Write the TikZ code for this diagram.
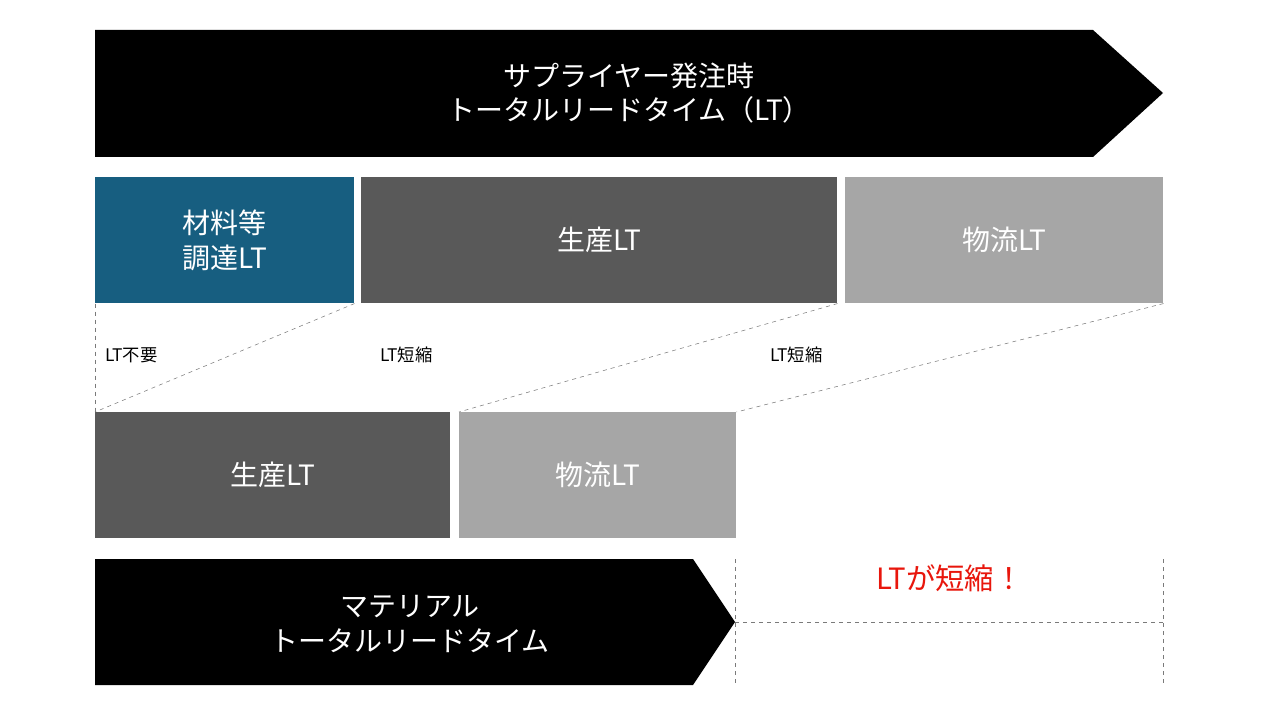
\documentclass[tikz,border=0pt]{standalone}
\usepackage{fontspec}
\setmainfont{Noto Sans CJK JP}
\usetikzlibrary{positioning}
\definecolor{blu}{HTML}{175E80}
\definecolor{dgray}{HTML}{595959}
\definecolor{lgray}{HTML}{A6A6A6}
\definecolor{lred}{HTML}{E8160C}
\begin{document}
\begin{tikzpicture}[x=0.75pt,y=-0.75pt,
    blk/.style={anchor=north west,inner sep=0pt,text=white,font=\fontsize{21}{26}\selectfont,align=center},
    note/.style={anchor=west,inner sep=0pt,font=\fontsize{13}{16}\selectfont},
    cut/.style={draw=dgray!80,dashed,thin}]
    \useasboundingbox (0,0) rectangle (1280,720);
    % top arrow
    \fill (95,30) -- (1093,30) -- (1163,93) -- (1093,157) -- (95,157) -- cycle;
    \node[blk,anchor=center] (total) at (629,93) {サプライヤー発注時\\トータルリードタイム（LT）};
    % current lead times
    \node[blk,fill=blu,minimum width=259*0.75pt,minimum height=126*0.75pt] (mat) at (95,177) {材料等\\調達LT};
    \node[blk,fill=dgray,minimum width=476*0.75pt,minimum height=126*0.75pt] (prodA) at (361,177) {生産LT};
    \node[blk,fill=lgray,minimum width=318*0.75pt,minimum height=126*0.75pt] (logA) at (845,177) {物流LT};
    % shortened lead times
    \node[blk,fill=dgray,minimum width=355*0.75pt,minimum height=126*0.75pt] (prodB) at (95,412) {生産LT};
    \node[blk,fill=lgray,minimum width=277*0.75pt,minimum height=126*0.75pt] (logB) at (459,412) {物流LT};
    \draw[cut] (mat.south west) -- (prodB.north west);
    \draw[cut] (mat.south east) -- (prodB.north west);
    \draw[cut] (prodA.south east) -- (logB.north west);
    \draw[cut] (logA.south east) -- (logB.north east);
    \node[note] (lt1) at (105,355) {LT不要};
    \node[note] (lt2) at (380,355) {LT短縮};
    \node[note] (lt3) at (770,355) {LT短縮};
    % bottom arrow
    \fill (95,559) -- (693,559) -- (735,622) -- (693,685) -- (95,685) -- cycle;
    \node[blk,anchor=center] (mtotal) at (410,624) {マテリアル\\トータルリードタイム};
    \coordinate (gapL) at (735,559);
    \coordinate (gapR) at (1163,559);
    \draw[cut] (gapL) -- ++(0,126);
    \draw[cut] (gapR) -- ++(0,126);
    \draw[cut] (735,622) -- (1163,622);
    \node[text=lred,font=\fontsize{22}{26}\selectfont] (gain) at (950,578) {LTが短縮！};
\end{tikzpicture}
\end{document}
